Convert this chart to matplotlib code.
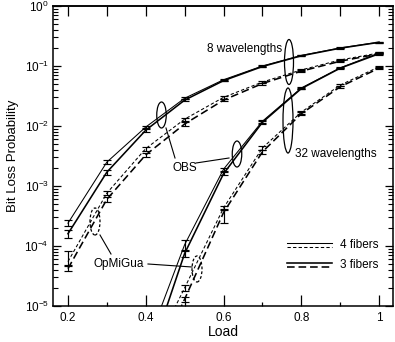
import numpy as np
import matplotlib
matplotlib.use("Agg")
import matplotlib.pyplot as plt
from matplotlib.patches import Ellipse
from matplotlib.ticker import LogLocator, NullFormatter, FixedLocator

plt.rcParams['font.family'] = ['Liberation Sans', 'DejaVu Sans']
plt.rcParams['mathtext.default'] = 'regular'
plt.rcParams['lines.scale_dashes'] = False

# ---------------- data ----------------
load8 = [0.2, 0.3, 0.4, 0.5, 0.6, 0.7, 0.8, 0.9, 1.0]
obs8_4 = [2.4e-4, 2.5e-3, 9.6e-3, 2.9e-2, 5.9e-2, 1.0e-1, 1.5e-1, 2.0e-1, 2.5e-1]
obs8_3 = [1.6e-4, 1.7e-3, 8.5e-3, 2.7e-2, 5.7e-2, 0.98e-1, 1.48e-1, 1.98e-1, 2.48e-1]
opm8_4 = [5.5e-5, 7.6e-4, 4.2e-3, 1.3e-2, 3.0e-2, 5.4e-2, 8.6e-2, 1.26e-1, 1.65e-1]
opm8_3 = [4.2e-5, 6.0e-4, 3.3e-3, 1.08e-2, 2.7e-2, 5.1e-2, 8.2e-2, 1.2e-1, 1.6e-1]

load32 = [0.4, 0.5, 0.6, 0.7, 0.8, 0.9, 1.0]
obs32_4 = [2.0e-6, 1.05e-4, 1.9e-3, 1.2e-2, 4.3e-2, 9.3e-2, 1.65e-1]
obs32_3 = [9.0e-7, 7.5e-5, 1.6e-3, 1.15e-2, 4.2e-2, 9.2e-2, 1.6e-1]
opm32_4 = [1.0e-6, 2.0e-5, 4.3e-4, 4.3e-3, 1.7e-2, 4.8e-2, 9.7e-2]
opm32_3 = [5.0e-7, 1.3e-5, 3.6e-4, 3.7e-3, 1.6e-2, 4.5e-2, 9.2e-2]

# relative error bars (lower, upper)
obs8_4_lo = [0.10, 0.08, 0.05, 0.04, 0.03, 0.03, 0.02, 0.02, 0.02]
obs8_4_hi = [0.12, 0.08, 0.05, 0.04, 0.03, 0.03, 0.02, 0.02, 0.02]
obs8_3_lo = [0.15, 0.10, 0.05, 0.04, 0.03, 0.03, 0.02, 0.02, 0.02]
obs8_3_hi = [0.15, 0.08, 0.05, 0.04, 0.03, 0.03, 0.02, 0.02, 0.02]
opm8_4_lo = [0.12, 0.08, 0.08, 0.06, 0.05, 0.04, 0.04, 0.03, 0.03]
opm8_4_hi = [0.50, 0.10, 0.08, 0.06, 0.05, 0.04, 0.04, 0.03, 0.03]
opm8_3_lo = [0.10, 0.10, 0.08, 0.06, 0.05, 0.04, 0.04, 0.03, 0.03]
opm8_3_hi = [0.12, 0.10, 0.08, 0.06, 0.05, 0.04, 0.04, 0.03, 0.03]
obs32_4_lo = [0.2, 0.18, 0.06, 0.05, 0.03, 0.02, 0.02]
obs32_4_hi = [0.2, 0.18, 0.06, 0.05, 0.03, 0.02, 0.02]
obs32_3_lo = [0.2, 0.12, 0.06, 0.05, 0.03, 0.02, 0.02]
obs32_3_hi = [0.2, 0.12, 0.06, 0.05, 0.03, 0.02, 0.02]
opm32_4_lo = [0.2, 0.10, 0.08, 0.08, 0.05, 0.04, 0.03]
opm32_4_hi = [0.2, 0.10, 0.08, 0.08, 0.05, 0.04, 0.03]
opm32_3_lo = [0.2, 0.10, 0.33, 0.08, 0.05, 0.04, 0.03]
opm32_3_hi = [0.2, 0.10, 0.15, 0.08, 0.05, 0.04, 0.03]

xticks = [0.2, 0.4, 0.6, 0.8, 1.0]
xticklabels = ['0.2', '0.4', '0.6', '0.8', '1']

# ---------------- figure ----------------
W, H = 395, 342
fig = plt.figure(figsize=(W / 100, H / 100), dpi=100)
L, R, T, B = 53, 393, 6, 306
ax = fig.add_axes([L / W, 1 - B / H, (R - L) / W, (B - T) / H])

thin = 0.75
thick = 1.15
short_dash = (0, (2.4, 1.6))
long_dash = (0, (5.5, 2.8))


def draw(x, y, lo, hi, lw, ls):
    y = np.array(y)
    yerr = np.vstack([y * np.array(lo), y * np.array(hi)])
    ax.errorbar(x, y, yerr=yerr, color='black', lw=lw, ls=ls,
                elinewidth=0.85, capsize=2.8, capthick=0.85)


draw(load8, obs8_4, obs8_4_lo, obs8_4_hi, thin, '-')
draw(load8, obs8_3, obs8_3_lo, obs8_3_hi, thick, '-')
draw(load8, opm8_4, opm8_4_lo, opm8_4_hi, thin, short_dash)
draw(load8, opm8_3, opm8_3_lo, opm8_3_hi, thick, long_dash)
draw(load32, obs32_4, obs32_4_lo, obs32_4_hi, thin, '-')
draw(load32, obs32_3, obs32_3_lo, obs32_3_hi, thick, '-')
draw(load32, opm32_4, opm32_4_lo, opm32_4_hi, thin, short_dash)
draw(load32, opm32_3, opm32_3_lo, opm32_3_hi, thick, long_dash)

ax.set_yscale('log')
ax.set_ylim(1e-5, 1)
ax.set_xlim(0.1615, 1.0359)

ax.set_xticks(xticks)
ax.set_xticklabels(xticklabels)
ax.xaxis.set_minor_locator(FixedLocator([0.3, 0.5, 0.7, 0.9]))
ax.yaxis.set_major_locator(LogLocator(base=10, numticks=10))
ax.yaxis.set_minor_locator(LogLocator(base=10, subs=np.arange(2, 10), numticks=20))
ax.yaxis.set_minor_formatter(NullFormatter())

ax.tick_params(axis='x', which='major', direction='in', length=8, width=0.9,
               labelsize=8.5, pad=4)
ax.tick_params(axis='x', which='minor', direction='in', length=3, width=0.9)
ax.tick_params(axis='y', which='major', direction='in', length=6, width=0.9,
               labelsize=8.5, right=True, pad=3)
ax.tick_params(axis='y', which='minor', direction='in', length=3.5, width=0.8,
               right=True)
for s in ax.spines.values():
    s.set_linewidth(1.1)

top = ax.secondary_xaxis('top')
top.set_xticks([0.2, 0.3, 0.4, 0.5, 0.6, 0.7, 0.8, 0.9, 1.0])
top.tick_params(direction='in', length=7, width=0.9, labeltop=False)
top.spines['top'].set_linewidth(1.1)

ax.set_xlabel('Load', fontsize=10, labelpad=1)
ax.set_ylabel('Bit Loss Probability', fontsize=9.5, labelpad=4)


# ---------------- annotations (pixel -> axes fraction) ----------------
def fx(px):
    return (px - L) / (R - L)


def fy(py):
    return (B - py) / (B - T)


def ell(cx, cy, w, h, ls='-'):
    e = Ellipse((fx(cx), fy(cy)), w / (R - L), h / (B - T), transform=ax.transAxes,
                fill=False, lw=0.9, ls=ls, ec='black')
    ax.add_patch(e)


def seg(x0, y0, x1, y1):
    ax.plot([fx(x0), fx(x1)], [fy(y0), fy(y1)], transform=ax.transAxes,
            color='black', lw=0.8)


ell(289, 62, 9, 45)
ell(288, 120.5, 10, 65)
ell(161.5, 115, 9.5, 26)
ell(237, 154, 9.5, 26)
ell(95, 221.5, 10, 27, ls=(0, (2, 1.5)))
ell(197, 269, 10, 26, ls=(0, (2, 1.5)))

seg(166, 128, 175, 158)
seg(196, 163, 229, 158)
seg(100, 235, 111, 254)
seg(148, 264, 192, 267)

tkw = dict(transform=ax.transAxes, fontsize=8.5, va='center')
ax.text(fx(282), fy(49), '8 wavelengths', ha='right', **tkw)
ax.text(fx(295), fy(154), '32 wavelengths', ha='left', **tkw)
ax.text(fx(184.5), fy(168), 'OBS', ha='center', **tkw)
ax.text(fx(119), fy(264), 'OpMiGua', ha='center', **tkw)

# legend
ax.plot([fx(287), fx(332)], [fy(243), fy(243)], transform=ax.transAxes,
        color='black', lw=thin)
ax.plot([fx(287), fx(332)], [fy(246.5), fy(246.5)], transform=ax.transAxes,
        color='black', lw=thin, ls=short_dash)
ax.plot([fx(287), fx(332)], [fy(263), fy(263)], transform=ax.transAxes,
        color='black', lw=thick)
ax.plot([fx(287), fx(332)], [fy(267), fy(267)], transform=ax.transAxes,
        color='black', lw=thick, ls=long_dash)
ax.text(fx(340), fy(245), '4 fibers', ha='left', **tkw)
ax.text(fx(340), fy(265.5), '3 fibers', ha='left', **tkw)

fig.savefig('out.png', dpi=100)
